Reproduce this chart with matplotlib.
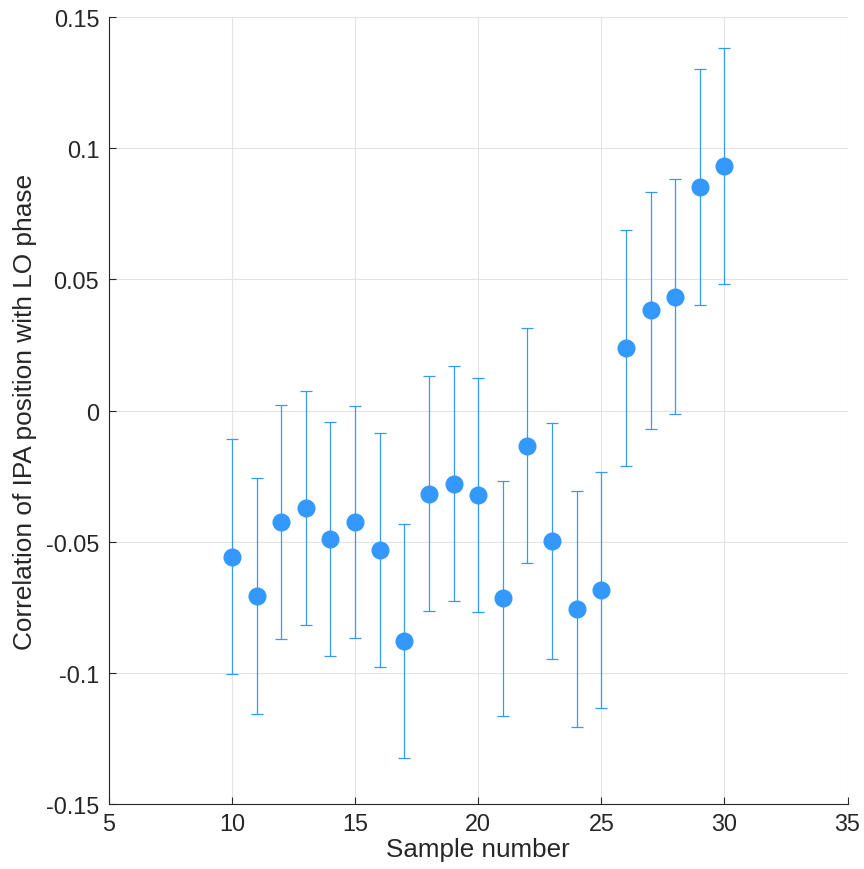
import numpy as np
import matplotlib
matplotlib.use("Agg")
import matplotlib.pyplot as plt

plt.rcParams['font.family'] = ['Liberation Sans', 'DejaVu Sans']
plt.rcParams['axes.unicode_minus'] = False

# data
sample = [10, 11, 12, 13, 14, 15, 16, 17, 18, 19, 20,
          21, 22, 23, 24, 25, 26, 27, 28, 29, 30]
corr = [-0.0558, -0.0707, -0.0425, -0.0372, -0.0490, -0.0425, -0.0532,
        -0.0880, -0.0318, -0.0280, -0.0322, -0.0715, -0.0135, -0.0498,
        -0.0757, -0.0684, 0.0238, 0.0382, 0.0434, 0.0853, 0.0932]
err = [0.0448, 0.0449, 0.0446, 0.0447, 0.0446, 0.0444, 0.0447,
       0.0446, 0.0448, 0.0448, 0.0447, 0.0448, 0.0448, 0.0450,
       0.0449, 0.0450, 0.0450, 0.0452, 0.0448, 0.0450, 0.0448]

col = '#3399ff'
txt = '#262626'

fig = plt.figure(figsize=(8.64, 8.70), dpi=100)
ax = fig.add_axes([0.126, 0.0747, 0.855, 0.9046])

ax.errorbar(sample, corr, yerr=err, fmt='o', color=col, ecolor=col,
            markersize=12, elinewidth=0.9, capsize=4, capthick=0.9,
            zorder=3)

ax.set_xlim(5, 35)
ax.set_ylim(-0.15, 0.15)
ax.set_xticks([5, 10, 15, 20, 25, 30, 35])
ax.set_yticks([-0.15, -0.1, -0.05, 0, 0.05, 0.1, 0.15])
ax.set_yticklabels(['-0.15', '-0.1', '-0.05', '0', '0.05', '0.1', '0.15'])

ax.grid(True, color='#e3e3e3', linewidth=0.8, zorder=0)
ax.set_axisbelow(True)
for s in ['top', 'right']:
    ax.spines[s].set_visible(False)
for s in ['left', 'bottom']:
    ax.spines[s].set_color(txt)
    ax.spines[s].set_linewidth(0.8)
ax.tick_params(direction='in', length=5, width=0.8, colors=txt,
               labelsize=16.8, labelcolor=txt)
ax.tick_params(axis='y', pad=7)
ax.tick_params(axis='x', pad=6)

ax.set_xlabel('Sample number', fontsize=18.7, color=txt, labelpad=1)
ax.set_ylabel('Correlation of IPA position with LO phase', fontsize=18.9,
              color=txt, labelpad=6)

fig.savefig('out.png', dpi=100)
